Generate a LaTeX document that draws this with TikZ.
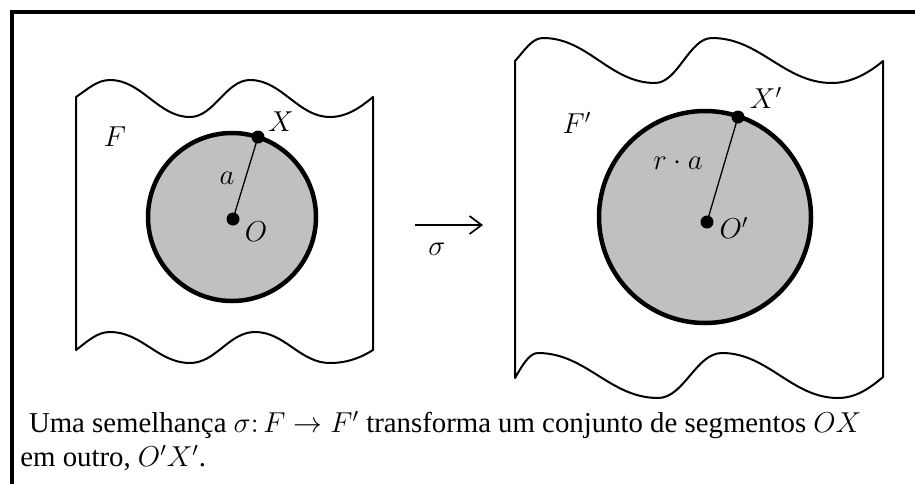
\documentclass[tikz,border=0pt]{standalone}
\usepackage{fontspec}
\setmainfont{Liberation Serif}
\usepackage{tikz}
\usetikzlibrary{positioning,arrows.meta}
\definecolor{discgray}{RGB}{192,192,192}
\tikzset{
  sheet/.style={draw=black,line width=1pt,fill=white,line join=round},
  disc/.style={circle,draw=black,line width=2.25pt,fill=discgray,inner sep=0pt},
  dot/.style={circle,fill=black,inner sep=0pt,minimum size=6.5pt},
  radline/.style={line width=0.65pt},
  mapline/.style={line width=0.85pt,-{Straight Barb[length=6pt,width=9pt]}},
  frameline/.style={line width=2pt},
}

\begin{document}
\begin{tikzpicture}[x=0.5pt,y=-0.5pt, every node/.style={font=\fontsize{14}{16}\selectfont}]
        \useasboundingbox (0,0) rectangle (915,483);
        \begin{scope}
          \clip (0,0) rectangle (915,483);
          \draw[frameline] (12,11.5) rectangle (940,500);
        \end{scope}
        % figure F
        \draw[sheet] (76,97) .. controls (88,89) and (97,80) .. (110,80)
          .. controls (142,80) and (158,117) .. (190,117)
          .. controls (214,117) and (226,80) .. (250,80)
          .. controls (282,80) and (298,117) .. (330,117)
          .. controls (348,117) and (362,106) .. (373,97) -- (373,350)
          .. controls (362,357) and (348,363) .. (330,363)
          .. controls (300,363) and (285,332) .. (255,332)
          .. controls (229,332) and (216,363) .. (190,363)
          .. controls (158,363) and (142,332) .. (110,332)
          .. controls (97,332) and (88,341) .. (76,350) -- cycle;
        \node[disc,minimum size=84pt] (discF) at (232,217) {};
        \node[dot] (O) at (233,219) {};
        \node[dot] (X) at (258,137) {};
        \draw[radline] (O.center) -- (X.center);
        \node (lblF) at (115,137) {$F$};
        \node (lblX) at (281,122) {$X$};
        \node (lbla) at (227,178) {$a$};
        \node (lblO) at (256,232) {$O$};
        % the map
        \coordinate (mapfrom) at (415,225);
        \coordinate (mapto) at (483,225);
        \draw[mapline] (mapfrom) -- (mapto);
        \node (sig) at (437,249) {$\sigma$};
        % figure F'
        \draw[sheet] (515,61) .. controls (525,50) and (532,38) .. (543,38)
          .. controls (588,38) and (610,83) .. (655,83)
          .. controls (678,83) and (689,38) .. (712,38)
          .. controls (760,38) and (784,83) .. (832,83)
          .. controls (852,83) and (870,72) .. (883,61) -- (883,377)
          .. controls (870,388) and (856,398) .. (838,398)
          .. controls (792,398) and (768,353) .. (722,353)
          .. controls (696,353) and (684,398) .. (658,398)
          .. controls (610,398) and (586,353) .. (538,353)
          .. controls (529,353) and (522,366) .. (515,378) -- cycle;
        \node[disc,minimum size=106pt] (discFp) at (705,217) {};
        \node[dot] (Op) at (707,222) {};
        \node[dot] (Xp) at (738,117) {};
        \draw[radline] (Op.center) -- (Xp.center);
        \node (lblFp) at (577,123) {$F'$};
        \node (lblXp) at (766,98) {$X'$};
        \node (lblra) at (678,163) {$r\cdot a$};
        \node (lblOp) at (734,228) {$O'$};
        % caption
        \node[anchor=north west,align=left,inner sep=0pt,
              font=\fontsize{14.4}{17}\selectfont] (caption) at (20,411)
          {\hspace*{0.3em}Uma semelhança $\sigma\colon F \rightarrow F'$ transforma um conjunto de segmentos $OX$\\
           em outro, $O'X'$.};
      \end{tikzpicture}
\end{document}
